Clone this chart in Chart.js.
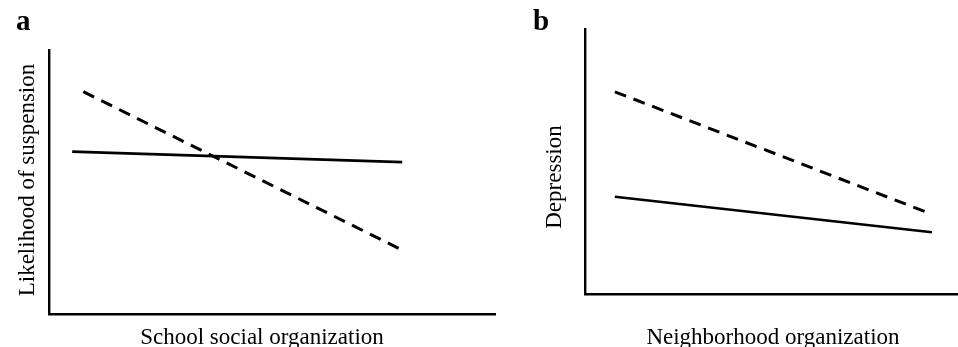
<!DOCTYPE html>
<html>
<head>
<meta charset="utf-8">
<script src="https://cdn.jsdelivr.net/npm/chart.js@4/dist/chart.umd.min.js"></script>
<style>
  html, body { margin: 0; padding: 0; background: #fff; }
  body { width: 958px; height: 347px; position: relative; overflow: hidden;
         font-family: "Liberation Serif", "Times New Roman", serif; color: #000; }
  canvas { position: absolute; top: 0; }
  #cA { left: 0; }
  #cB { left: 500px; }
  .lbl { position: absolute; white-space: nowrap; font-size: 23px; line-height: 23px; }
  .panel { position: absolute; font-weight: bold; font-size: 29px; line-height: 29px; top: 5.7px; }
  .xt { transform: translateX(-50%); top: 324.7px; }
  .yt { transform: translate(-50%, -50%) rotate(-90deg); }
</style>
</head>
<body>
<canvas id="cA" width="500" height="347"></canvas>
<canvas id="cB" width="458" height="347"></canvas>
<div class="panel" style="left:16px;">a</div>
<div class="panel" style="left:533px;">b</div>
<div class="lbl xt" style="left:262px;">School social organization</div>
<div class="lbl xt" style="left:773px;">Neighborhood organization</div>
<div class="lbl yt" style="left:25.7px; top:180px;">Likelihood of suspension</div>
<div class="lbl yt" style="left:553px; top:177px;">Depression</div>
<script>
// Panel a: school social organization vs likelihood of suspension
const aSolidX  = [0.52, 7.92];
const aSolidY  = [6.15, 5.75];
const aDashedX = [0.77, 7.92];
const aDashedY = [8.42, 2.42];
// Panel b: neighborhood organization vs depression
const bSolidX  = [0.80, 9.30];
const bSolidY  = [3.67, 2.33];
const bDashedX = [0.80, 9.30];
const bDashedY = [7.63, 3.01];

function pts(xs, ys) { return xs.map((x, i) => ({ x: x, y: ys[i] })); }

function makeChart(id, solidX, solidY, dashedX, dashedY, pad) {
  const axis = {
    type: 'linear', min: 0, max: 10,
    ticks: { display: false },
    grid: { display: false, drawTicks: false },
    border: { display: true, color: '#000', width: 2.4 }
  };
  return new Chart(document.getElementById(id), {
    type: 'line',
    data: {
      datasets: [
        { data: pts(solidX, solidY), borderColor: '#000', borderWidth: 2.7,
          pointRadius: 0, tension: 0, fill: false },
        { data: pts(dashedX, dashedY), borderColor: '#000', borderWidth: 3,
          borderDash: [12, 8], pointRadius: 0, tension: 0, fill: false }
      ]
    },
    options: {
      responsive: false, animation: false, devicePixelRatio: 1,
      layout: { padding: pad },
      plugins: { legend: { display: false }, tooltip: { enabled: false }, title: { display: false } },
      scales: {
        x: Object.assign({}, axis, { position: 'bottom' }),
        y: Object.assign({}, axis, { position: 'left' })
      }
    }
  });
}

makeChart('cA', aSolidX, aSolidY, aDashedX, aDashedY, { left: 49, right: 5, top: 50, bottom: 33 });
makeChart('cB', bSolidX, bSolidY, bDashedX, bDashedY, { left: 85, right: 0, top: 29, bottom: 53 });
</script>
</body>
</html>
